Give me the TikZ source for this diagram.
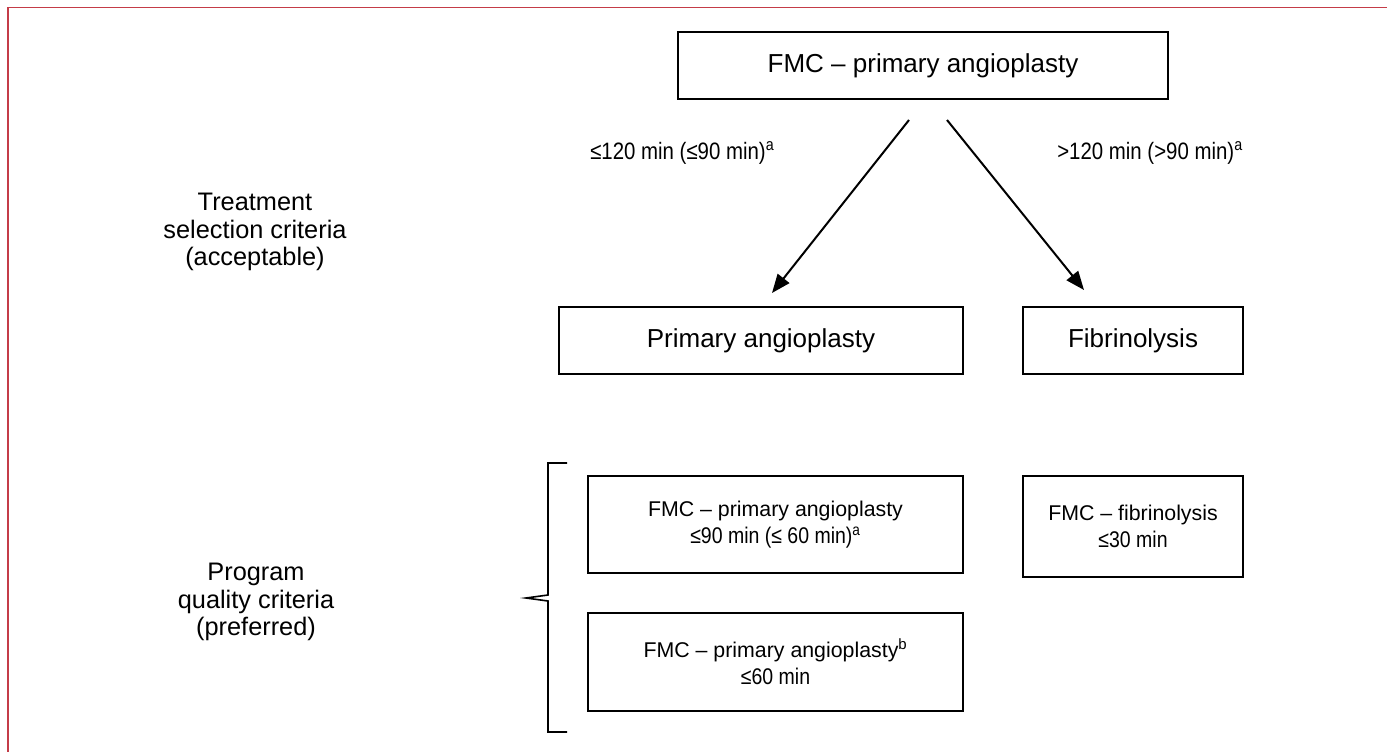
\documentclass[tikz,border=0pt]{standalone}
\usepackage{fontspec}
\setmainfont{Liberation Sans}
\newfontfamily\narrowfont[FakeStretch=0.86]{Liberation Sans}
\usetikzlibrary{arrows.meta}
\definecolor{framered}{RGB}{196,60,72}
\tikzset{
  box/.style={draw=black, line width=1.2pt, rectangle, inner sep=0pt, align=center, anchor=center},
  bigtxt/.style={font=\fontsize{19.5pt}{21pt}\selectfont},
  smalltxt/.style={font=\fontsize{16pt}{20.25pt}\selectfont},
  lbl/.style={align=center, inner sep=0pt, font=\fontsize{19pt}{20.5pt}\selectfont},
  arrlbl/.style={inner sep=0pt, anchor=west, font=\narrowfont\fontsize{17.8pt}{20pt}\selectfont},
  conn/.style={line width=1.5pt, -{Triangle[length=14pt, width=11pt]}},
}
\newcommand{\nr}[1]{{\narrowfont\fontsize{17pt}{20pt}\selectfont #1}}
\begin{document}
\begin{tikzpicture}[x=0.75pt, y=-0.75pt]
\useasboundingbox (0,0) rectangle (1387,752);
% frame
\draw[framered, line width=1pt] (8,752) -- (8,7.5) -- (1387,7.5);

% nodes
\node[box, bigtxt, minimum width=367.5pt, minimum height=50.25pt] (top) at (923,65.5) {FMC – primary angioplasty};
\node[box, bigtxt, minimum width=303pt, minimum height=50.25pt] (pa) at (761,340.5) {Primary angioplasty};
\node[box, bigtxt, minimum width=165pt, minimum height=50.25pt] (fib) at (1133,340.5) {Fibrinolysis};

\node[box, smalltxt, minimum width=281.25pt, minimum height=72.75pt] (q1) at (775.5,524.5)
  {FMC – primary angioplasty\\ \nr{≤90 min (≤ 60 min)\textsuperscript{a}}};
\node[box, smalltxt, minimum width=281.25pt, minimum height=73.5pt] (q2) at (775.5,662)
  {FMC – primary angioplasty\textsuperscript{b}\\ \nr{≤60 min}};
\node[box, smalltxt, minimum width=165pt, minimum height=75.75pt] (q3) at (1133,526.5)
  {FMC – fibrinolysis\\ \nr{≤30 min}};

\node[lbl] (tsc) at (255,232) {Treatment\\selection criteria\\(acceptable)};
\node[lbl] (pqc) at (256,602) {Program\\quality criteria\\(preferred)};

\node[arrlbl] (l1) at (590,153) {≤120 min (≤90 min)\textsuperscript{a}};
\node[arrlbl] (l2) at (1057,153) {>120 min (>90 min)\textsuperscript{a}};

% connectors
\coordinate (s1) at (909,120);
\coordinate (s2) at (947,120);
\coordinate (e1) at (772,293);
\coordinate (e2) at (1084,290);
\draw[conn] (s1) -- (e1);
\draw[conn] (s2) -- (e2);

% bracket
\draw[line width=1.2pt] (567,463) -- (548,463) -- (548,595) -- (526,598) -- (548,601) -- (548,732) -- (567,732);
\end{tikzpicture}
\end{document}
